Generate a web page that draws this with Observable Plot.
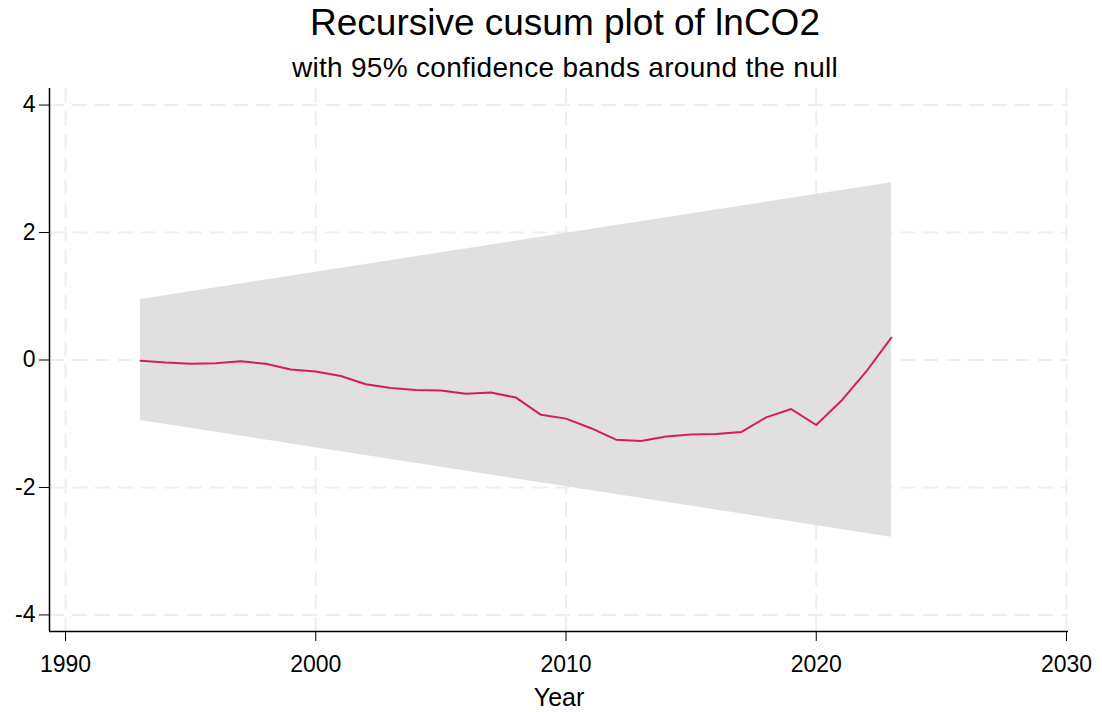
<!DOCTYPE html>
<html>
<head>
<meta charset="utf-8">
<script src="https://cdn.jsdelivr.net/npm/d3@7"></script>
<script src="https://cdn.jsdelivr.net/npm/@observablehq/plot@0.6"></script>
<style>
  html, body { margin: 0; padding: 0; background: #ffffff; }
  body { width: 1102px; height: 712px; overflow: hidden; font-family: "Liberation Sans", Arial, sans-serif; }
  #header { position: relative; width: 1102px; height: 80px; }
  #title { position: absolute; left: 0; width: 1130px; text-align: center; top: 2px; font-size: 37px; line-height: 42px; color: #000; }
  #subtitle { position: absolute; left: 0; width: 1130px; text-align: center; top: 52px; font-size: 28px; letter-spacing: 0.3px; line-height: 32px; color: #000; }
  #chart svg { display: block; }
</style>
</head>
<body>
<div id="header">
  <div id="title">Recursive cusum plot of lnCO2</div>
  <div id="subtitle">with 95% confidence bands around the null</div>
</div>
<div id="chart"></div>
<script>
// Recursive CUSUM statistic by year
const years = [1993, 1994, 1995, 1996, 1997, 1998, 1999, 2000, 2001, 2002, 2003,
               2004, 2005, 2006, 2007, 2008, 2009, 2010, 2011, 2012, 2013, 2014,
               2015, 2016, 2017, 2018, 2019, 2020, 2021, 2022, 2023];
const cusum = [-0.01, -0.04, -0.06, -0.05, -0.02, -0.06, -0.15, -0.18, -0.25, -0.38, -0.44,
               -0.47, -0.48, -0.53, -0.51, -0.59, -0.86, -0.92, -1.07, -1.25, -1.27, -1.20,
               -1.17, -1.16, -1.13, -0.90, -0.77, -1.02, -0.64, -0.18, 0.35];

// 95% confidence band (straight lines between the first and last year)
const bandYears = [1993, 2023];
const bandUpper = [0.95, 2.78];
const bandLower = [-0.95, -2.78];

// Axis ticks and domains
const xTicks = [1990, 2000, 2010, 2020, 2030];
const yTicks = [-4, -2, 0, 2, 4];
const xDomain = [1989.36, 2030.08];
const yDomain = [-4.26, 4.26];

const lineData = years.map((year, i) => ({year, value: cusum[i]}));
const bandData = bandYears.map((year, i) => ({year, lower: bandLower[i], upper: bandUpper[i]}));

const gridStyle = {stroke: "#eeeeee", strokeOpacity: 1, strokeWidth: 2, strokeDasharray: "15,8"};

const chart = Plot.plot({
  width: 1102,
  height: 632,
  marginLeft: 49,
  marginRight: 34,
  marginTop: 8,
  marginBottom: 81,
  style: {fontFamily: "'Liberation Sans', Arial, sans-serif", fontSize: "23px", color: "#000", background: "#fff"},
  x: {domain: xDomain},
  y: {domain: yDomain},
  marks: [
    Plot.gridX(xTicks, gridStyle),
    Plot.gridY(yTicks, gridStyle),
    Plot.areaY(bandData, {x: "year", y1: "lower", y2: "upper", fill: "#e0e0e0"}),
    Plot.lineY(lineData, {x: "year", y: "value", stroke: "#d81b5b", strokeWidth: 2}),
    Plot.ruleX([xDomain[0]], {stroke: "#000", strokeWidth: 1.5}),
    Plot.ruleY([yDomain[0]], {stroke: "#000", strokeWidth: 1.5}),
    Plot.axisX(xTicks, {tickSize: 10, tickPadding: 14, tickFormat: d => String(d), label: null, fontSize: 23, stroke: "#000"}),
    Plot.axisY(yTicks, {tickSize: 10, tickPadding: 4, tickFormat: d => String(d), label: null, fontSize: 23, stroke: "#000"}),
    Plot.text(["Year"], {frameAnchor: "bottom", dy: 66, lineAnchor: "middle", fontSize: 25, fill: "#000"})
  ]
});
document.getElementById("chart").appendChild(chart);
</script>
</body>
</html>
